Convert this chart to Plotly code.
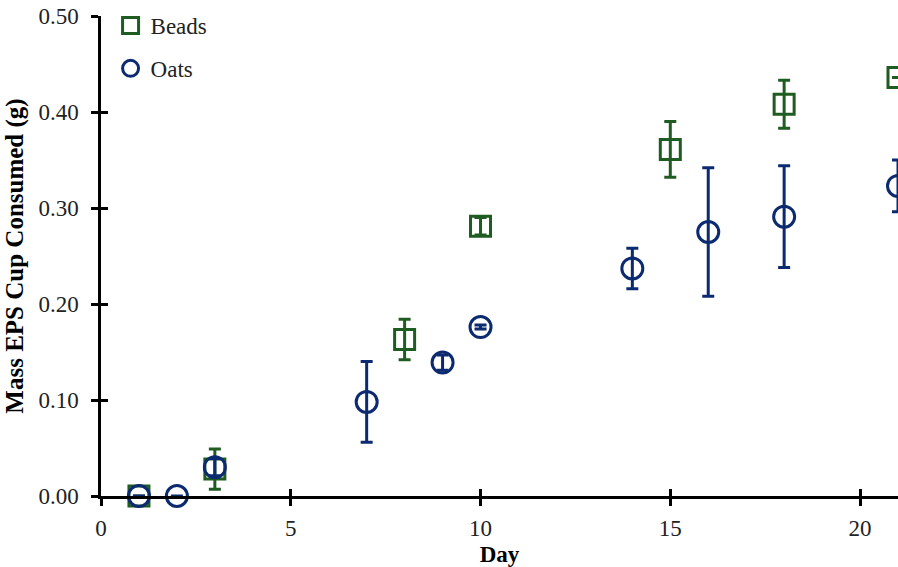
import plotly.graph_objects as go

# Mass of EPS cup consumed over time, by feed type
beads_day = [1, 3, 8, 10, 15, 18, 21]
beads_mass = [0.000, 0.028, 0.163, 0.281, 0.361, 0.408, 0.436]
beads_err = [0.000, 0.021, 0.021, 0.009, 0.029, 0.025, 0.000]

oats_day = [1, 2, 3, 7, 9, 10, 14, 16, 18, 21]
oats_mass = [0.000, 0.000, 0.030, 0.098, 0.139, 0.176, 0.237, 0.275, 0.291, 0.323]
oats_err = [0.000, 0.000, 0.009, 0.042, 0.008, 0.002, 0.021, 0.067, 0.053, 0.027]

x_ticks = [0, 5, 10, 15, 20]
y_ticks = [0.0, 0.1, 0.2, 0.3, 0.4, 0.5]

GREEN = "#1F5C21"
NAVY = "#0B2A6F"
FONT = "Liberation Serif"

fig = go.Figure()

fig.add_trace(go.Scatter(
    x=beads_day, y=beads_mass, name="Beads", mode="markers", cliponaxis=False,
    marker=dict(symbol="square-open", size=20, color=GREEN, line=dict(width=3, color=GREEN)),
    error_y=dict(type="data", array=beads_err, visible=True, color=GREEN, thickness=3, width=6),
    legendgroup="b",
))
fig.add_trace(go.Scatter(
    x=oats_day, y=oats_mass, name="Oats", mode="markers", cliponaxis=False,
    marker=dict(symbol="circle-open", size=21, color=NAVY, line=dict(width=3, color=NAVY)),
    error_y=dict(type="data", array=oats_err, visible=True, color=NAVY, thickness=3, width=6),
    legendgroup="o",
))
# helper trace so the overlay axes (inner half of the crossing ticks) get drawn
fig.add_trace(go.Scatter(x=[None], y=[None], xaxis="x2", yaxis="y2", showlegend=False, hoverinfo="skip"))

axis_common = dict(showline=True, linecolor="black", linewidth=2.5, showgrid=False, zeroline=False,
                   tickcolor="black", tickwidth=2.5, ticklen=7,
                   tickfont=dict(family=FONT, size=23, color="#222"))

fig.update_layout(
    width=898, height=567,
    margin=dict(l=101, r=0, t=16, b=71),
    plot_bgcolor="white", paper_bgcolor="white",
    font=dict(family=FONT, color="black"),
    xaxis=dict(range=[0, 21], tickvals=x_ticks, ticktext=[str(v) for v in x_ticks], ticks="outside",
               ticklabelstandoff=3,
               title=dict(text="<b>Day</b>", font=dict(family=FONT, size=23), standoff=6),
               **axis_common),
    yaxis=dict(range=[0, 0.5], tickvals=y_ticks, ticktext=[f"{v:.2f}" for v in y_ticks], ticks="outside",
               ticklabelstandoff=8,
               title=dict(text="<b>Mass EPS Cup Consumed (g)</b>", font=dict(family=FONT, size=25), standoff=8),
               **axis_common),
    xaxis2=dict(overlaying="x", anchor="y2", range=[0, 21], tickvals=x_ticks, ticks="inside",
                ticklen=7, tickwidth=2.5, tickcolor="black", showticklabels=False,
                showline=False, showgrid=False, zeroline=False),
    yaxis2=dict(overlaying="y", anchor="x2", range=[0, 0.5], tickvals=y_ticks, ticks="inside",
                ticklen=7, tickwidth=2.5, tickcolor="black", showticklabels=False,
                showline=False, showgrid=False, zeroline=False),
    legend=dict(x=0.012, y=1.025, xanchor="left", yanchor="top", bgcolor="rgba(0,0,0,0)",
                font=dict(family=FONT, size=23, color="#222"), itemwidth=30,
                traceorder="grouped", tracegroupgap=10),
)

fig.write_html("out.html")
